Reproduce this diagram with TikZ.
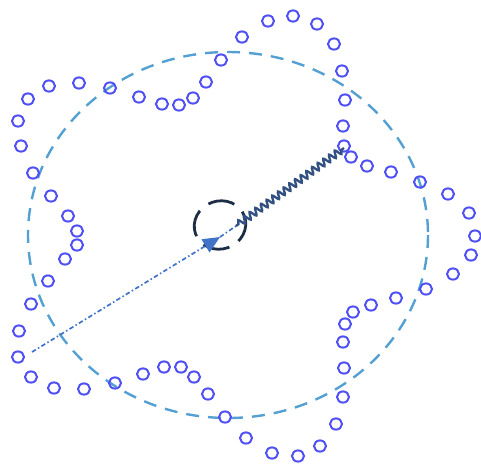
\documentclass[tikz,border=0pt]{standalone}
\usetikzlibrary{decorations.pathmorphing,arrows.meta}
\definecolor{ringblue}{RGB}{80,80,245}
\definecolor{bigdash}{RGB}{85,160,210}
\definecolor{navy}{RGB}{30,45,70}
\definecolor{snakecol}{RGB}{50,80,130}
\definecolor{arrowcol}{RGB}{65,115,200}
\tikzset{
  ring/.style={draw=ringblue,line width=2pt},
  bigcircle/.style={draw=bigdash,line width=2.4pt,dash pattern=on 13pt off 9pt},
  innercircle/.style={draw=navy,line width=2.8pt,dash pattern=on 27pt off 11pt},
  wave/.style={draw=snakecol,line width=2.3pt,decorate,decoration={snake,amplitude=3.4pt,segment length=7pt,pre length=3pt,post length=2pt}},
  radiusline/.style={draw=arrowcol,line width=1.7pt,dash pattern=on 4.5pt off 2.5pt on 1.5pt off 2.5pt}
}
\begin{document}
\begin{tikzpicture}[x=1pt,y=-1pt]
\useasboundingbox (0,0) rectangle (481,464);
% big dashed circle
\draw[bigcircle] (228,235) ellipse [x radius=200, y radius=183];
% rings
\foreach \x/\y in {221/60,242/37,268/21,293/16,317/24,334/44,342/71,345/100,343/126,344/146,
  351/157,367/166,391/172,420/182,448/194,469/213,475/236,471/255,453/274,426/289,
  396/298,371/305,353/312,345/324,343/342,344/368,343/397,336/424,320/446,298/456,
  272/453,246/438,225/417,208/394,194/377,181/367,164/367,143/374,115/383,84/389,
  54/388,31/377,18/357,19/331,31/304,48/281,65/259,77/245,77/231,68/216,
  51/196,33/173,21/146,18/121,28/99,49/86,79/83,110/88,139/97,162/104,
  179/105,193/98,206/82}
  \draw[ring] (\x,\y) ellipse [x radius=6, y radius=5.6];
% inner dashed circle
\coordinate (center) at (220,225);
\draw[innercircle,rotate around={20:(center)}] (center) ellipse [x radius=26, y radius=24];
% named points
\coordinate (start) at (32,352);
\coordinate (tip) at (220,237);
\coordinate (wstart) at (236,226);
\coordinate (wend) at (344,148);
% dash-dotted radius with arrow
\draw[radiusline,-{Triangle[length=17pt,width=15pt,fill=arrowcol]}] (start) -- (tip);
\draw[radiusline] (tip) -- (wstart);
% wavy line
\draw[wave] (wstart) -- (wend);
\end{tikzpicture}
\end{document}
